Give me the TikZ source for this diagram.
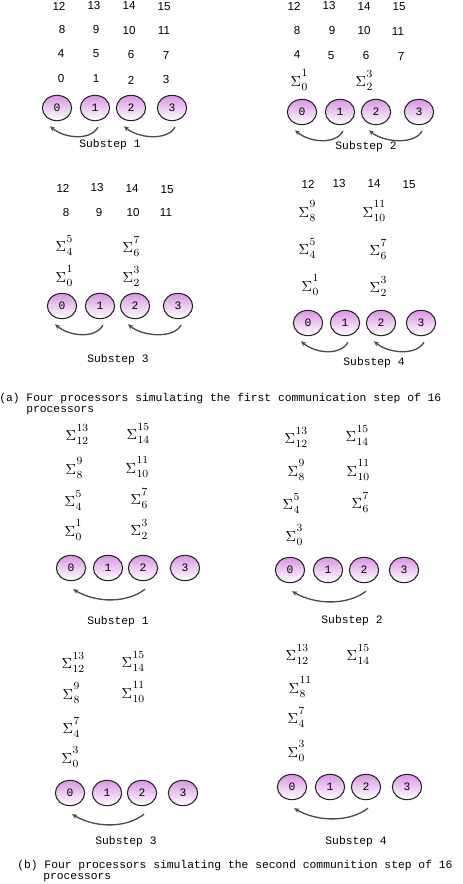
\documentclass[tikz,border=0pt]{standalone}
\usepackage{fontspec}
\usetikzlibrary{shapes.geometric,arrows.meta}
\newfontfamily\monof{Liberation Mono}
\newfontfamily\numf{Liberation Sans}
\definecolor{pinkv}{RGB}{218,150,228}
\newcommand\sgm[2]{\mbox{\fontsize{10.5}{11}\selectfont$\Sigma$\kern0.3pt\rlap{\raisebox{6.8pt}{\fontsize{8.2}{9}\selectfont #2}}\raisebox{-3pt}{\fontsize{8.2}{9}\selectfont #1}}}
\newcommand\procs[6]{%
  \node[proc] (#1-0) at (#3,#2) {0};
  \node[proc] (#1-1) at (#4,#2) {1};
  \node[proc] (#1-2) at (#5,#2) {2};
  \node[proc] (#1-3) at (#6,#2) {3};}
\newcommand\narc[2]{\draw[arr] ([shift={(3,6)}]#1.south) .. controls +(-8,14) and +(14,12) .. ([shift={(-7,5)}]#2.south);}
\newcommand\warc[2]{\draw[arr] ([shift={(2,8)}]#1.south) .. controls +(-18,14) and +(24,14) .. ([shift={(2,8)}]#2.south);}
\tikzset{
  num/.style={font=\numf\fontsize{8.7}{10}\selectfont, inner sep=0pt},
  sg/.style={inner sep=0pt},
  proc/.style={ellipse, draw=black!85, line width=0.8pt, minimum width=22pt, minimum height=19pt,
    inner sep=0pt, top color=pinkv, bottom color=white, font=\monof\fontsize{8.5}{10}\selectfont},
  arr/.style={draw=black!70, line width=1pt, -{Stealth[length=4pt,width=3.5pt]}},
  lbl/.style={font=\monof\fontsize{8.5}{10}\selectfont, inner sep=0pt},
  captext/.style={font=\monof\fontsize{8.5}{10}\selectfont, inner sep=0pt, anchor=base west}
}
\begin{document}
\begin{tikzpicture}[x=0.75pt,y=-0.75pt]
\useasboundingbox[fill=white] (0,0) rectangle (462,884);
% ---------- (a) substep 1
\node[num] (a1r12) at (59,6) {12};
\node[num] (a1r13) at (94,6) {13};
\node[num] (a1r14) at (129,6) {14};
\node[num] (a1r15) at (164,7) {15};
\node[num] (a1r8) at (62,30) {8};
\node[num] (a1r9) at (96,30) {9};
\node[num] (a1r10) at (129,31) {10};
\node[num] (a1r11) at (164,31) {11};
\node[num] (a1r4) at (61,54) {4};
\node[num] (a1r5) at (96,54) {5};
\node[num] (a1r6) at (131,55) {6};
\node[num] (a1r7) at (166,56) {7};
\node[num] (a1r0) at (61,79) {0};
\node[num] (a1r1) at (96,79) {1};
\node[num] (a1r2) at (131,80) {2};
\node[num] (a1r3) at (166,80) {3};
\procs{a1}{108}{57}{95}{131}{172}
\narc{a1-1}{a1-0}
\narc{a1-3}{a1-2}
\node[lbl] (a1l) at (110,145) {Substep 1};
% ---------- (a) substep 2
\node[num] (a2r12) at (294,6) {12};
\node[num] (a2r13) at (329,6) {13};
\node[num] (a2r14) at (364,7) {14};
\node[num] (a2r15) at (399,7) {15};
\node[num] (a2r8) at (297,31) {8};
\node[num] (a2r9) at (332,31) {9};
\node[num] (a2r10) at (364,31) {10};
\node[num] (a2r11) at (398,32) {11};
\node[num] (a2r4) at (297,55) {4};
\node[num] (a2r5) at (331,56) {5};
\node[num] (a2r6) at (366,56) {6};
\node[num] (a2r7) at (401,57) {7};
\node[sg] (a2s01) at (299,80) {\sgm{0}{1}};
\node[sg] (a2s23) at (364,80) {\sgm{2}{3}};
\procs{a2}{112}{302}{340}{376}{419}
\narc{a2-1}{a2-0}
\narc{a2-3}{a2-2}
\node[lbl] (a2l) at (366,147) {Substep 2};
% ---------- (a) substep 3
\node[num] (a3r12) at (63,188) {12};
\node[num] (a3r13) at (97,188) {13};
\node[num] (a3r14) at (132,189) {14};
\node[num] (a3r15) at (167,190) {15};
\node[num] (a3r8) at (66,213) {8};
\node[num] (a3r9) at (99,213) {9};
\node[num] (a3r10) at (133,213) {10};
\node[num] (a3r11) at (166,213) {11};
\node[sg] (a3s45) at (64,245) {\sgm{4}{5}};
\node[sg] (a3s67) at (131,246) {\sgm{6}{7}};
\node[sg] (a3s01) at (64,276) {\sgm{0}{1}};
\node[sg] (a3s23) at (131,276) {\sgm{2}{3}};
\procs{a3}{306}{62}{100}{135}{178}
\narc{a3-1}{a3-0}
\narc{a3-3}{a3-2}
\node[lbl] (a3l) at (118,360) {Substep 3};
% ---------- (a) substep 4
\node[num] (a4r12) at (308,184) {12};
\node[num] (a4r13) at (339,184) {13};
\node[num] (a4r14) at (374,184) {14};
\node[num] (a4r15) at (409,185) {15};
\node[sg] (a4s89) at (307,211) {\sgm{8}{9}};
\node[sg] (a4s1011) at (374,211) {\sgm{10}{11}};
\node[sg] (a4s45) at (307,248) {\sgm{4}{5}};
\node[sg] (a4s67) at (378,249) {\sgm{6}{7}};
\node[sg] (a4s01) at (310,285) {\sgm{0}{1}};
\node[sg] (a4s23) at (378,286) {\sgm{2}{3}};
\procs{a4}{323}{308}{345}{381}{421}
\narc{a4-1}{a4-0}
\narc{a4-3}{a4-2}
\node[lbl] (a4l) at (374,363) {Substep 4};
% ---------- caption (a)
\node[captext] (capa1) at (-1,401) {(a) Four processors simulating the first communication step of 16};
\node[captext] (capa2) at (26,412) {processors};
% ---------- (b) substep 1
\node[sg] (b1s1213) at (77,434) {\sgm{12}{13}};
\node[sg] (b1s1415) at (138,433) {\sgm{14}{15}};
\node[sg] (b1s89) at (74,468) {\sgm{8}{9}};
\node[sg] (b1s1011) at (137,467) {\sgm{10}{11}};
\node[sg] (b1s45) at (73,500) {\sgm{4}{5}};
\node[sg] (b1s67) at (139,498) {\sgm{6}{7}};
\node[sg] (b1s01) at (73,530) {\sgm{0}{1}};
\node[sg] (b1s23) at (139,529) {\sgm{2}{3}};
\procs{b1}{568}{71}{108}{143}{185}
\warc{b1-2}{b1-0}
\node[lbl] (b1l) at (118,622) {Substep 1};
% ---------- (b) substep 2
\node[sg] (b2s1213) at (296,437) {\sgm{12}{13}};
\node[sg] (b2s1415) at (357,435) {\sgm{14}{15}};
\node[sg] (b2s89) at (296,470) {\sgm{8}{9}};
\node[sg] (b2s1011) at (358,470) {\sgm{10}{11}};
\node[sg] (b2s45) at (291,503) {\sgm{4}{5}};
\node[sg] (b2s67) at (360,502) {\sgm{6}{7}};
\node[sg] (b2s03) at (294,535) {\sgm{0}{3}};
\procs{b2}{570}{290}{328}{364}{404}
\warc{b2-2}{b2-0}
\node[lbl] (b2l) at (352,621) {Substep 2};
% ---------- (b) substep 3
\node[sg] (b3s1213) at (73,662) {\sgm{12}{13}};
\node[sg] (b3s1415) at (133,661) {\sgm{14}{15}};
\node[sg] (b3s89) at (71,693) {\sgm{8}{9}};
\node[sg] (b3s1011) at (133,692) {\sgm{10}{11}};
\node[sg] (b3s47) at (71,727) {\sgm{4}{7}};
\node[sg] (b3s03) at (70,757) {\sgm{0}{3}};
\procs{b3}{793}{70}{107}{142}{183}
\warc{b3-2}{b3-0}
\node[lbl] (b3l) at (126,842) {Substep 3};
% ---------- (b) substep 4
\node[sg] (b4s1213) at (297,654) {\sgm{12}{13}};
\node[sg] (b4s1415) at (358,654) {\sgm{14}{15}};
\node[sg] (b4s811) at (297,687) {\sgm{8}{11}};
\node[sg] (b4s47) at (296,717) {\sgm{4}{7}};
\node[sg] (b4s03) at (296,751) {\sgm{0}{3}};
\procs{b4}{787}{292}{330}{366}{407}
\warc{b4-2}{b4-0}
\node[lbl] (b4l) at (356,842) {Substep 4};
% ---------- caption (b)
\node[captext] (capb1) at (17,868) {(b) Four processors simulating the second communition step of 16};
\node[captext] (capb2) at (43,879) {processors};
\end{tikzpicture}
\end{document}
